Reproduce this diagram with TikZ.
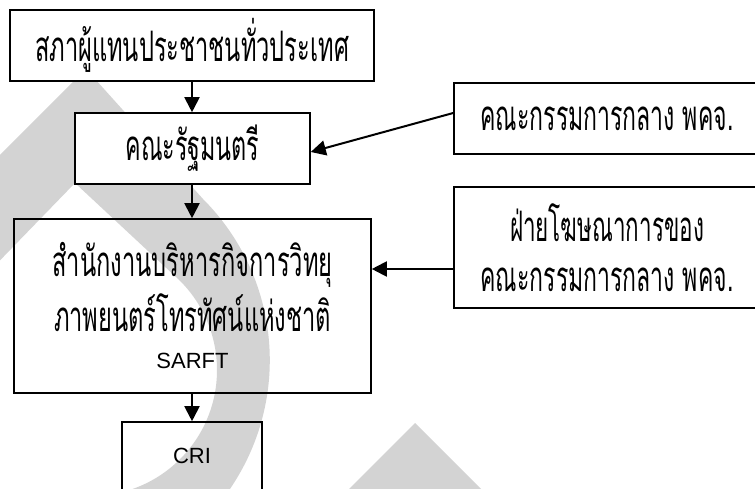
\documentclass[tikz,border=0pt]{standalone}
\usepackage{fontspec}
\usepackage{graphicx}
\setmainfont{Liberation Sans}
\newfontfamily\thaifont[Script=Thai]{Loma}
\usetikzlibrary{arrows.meta}
\definecolor{wm}{RGB}{211,211,211}
\newcommand{\thw}[2]{\resizebox{#1}{\height}{\thaifont #2}}
\begin{document}
\begin{tikzpicture}[x=1pt,y=1pt,
  box/.style={draw, line width=1.6pt, fill=white, inner sep=0pt},
  openbox/.style={draw, line width=1.6pt, inner sep=0pt},
  arr/.style={line width=2pt, -{Triangle[length=15pt,width=15pt]}},
  thfont/.style={font=\fontsize{42}{55}\selectfont}
]
\useasboundingbox (0,0) rectangle (755,-489);
\begin{scope}
\clip (0,0) rectangle (755,-489);
% watermark
\fill[wm] (-20,-175) -- (86,-69) -- (203,-199) arc[start angle=45,end angle=-50,radius=228pt]
  -- (91,-545) -- (91,-496) arc[start angle=-90,end angle=48.9,radius=126pt]
  -- (75,-183) -- (-20,-281) -- cycle;
\fill[wm] (415,-423) -- (505,-513) -- (325,-513) -- cycle;
% boxes
\node[box, minimum width=364pt, minimum height=71pt, thfont] (b1) at (192,-45.5)
  {\thw{314pt}{สภาผู้แทนประชาชนทั่วประเทศ}};
\node[box, minimum width=235pt, minimum height=71pt, thfont] (b2) at (192.5,-148.5)
  {\thw{134pt}{คณะรัฐมนตรี}};
\node[openbox, minimum width=357pt, minimum height=174pt, thfont, align=center] (b3) at (192.5,-306)
  {\thw{280pt}{สำนักงานบริหารกิจการวิทยุ}\\
   \thw{277pt}{ภาพยนตร์โทรทัศน์แห่งชาติ}\\[-18pt]
   {\fontsize{22}{55}\selectfont SARFT}};
\node[box, minimum width=306pt, minimum height=71pt, thfont] (b4) at (607,-118.5)
  {\thw{253pt}{คณะกรรมการกลาง พคจ.}};
\node[box, minimum width=306pt, minimum height=121pt, font=\fontsize{42}{50}\selectfont, align=center] (b5) at (607,-247.5)
  {\thw{194pt}{ฝ่ายโฆษณาการของ}\\
   \thw{253pt}{คณะกรรมการกลาง พคจ.}};
\node[openbox, minimum width=140pt, minimum height=80pt, font=\fontsize{22}{25}\selectfont,
  text height=16pt, text depth=13pt] (cri) at (192,-462) {CRI};
% arrows
\draw[arr] (b1.south) -- (b1.south |- b2.north);
\draw[arr] (b1.south |- b2.south) -- (b1.south |- b3.north);
\draw[arr] (b1.south |- b3.south) -- (b1.south |- cri.north);
\draw[arr] ([yshift=5.5pt]b4.west) -- ([yshift=-3.5pt]b2.east);
\draw[arr] ([yshift=-21.5pt]b5.west) -- ([yshift=-21.5pt]b5.west -| b3.east);
\end{scope}
\end{tikzpicture}
\end{document}
